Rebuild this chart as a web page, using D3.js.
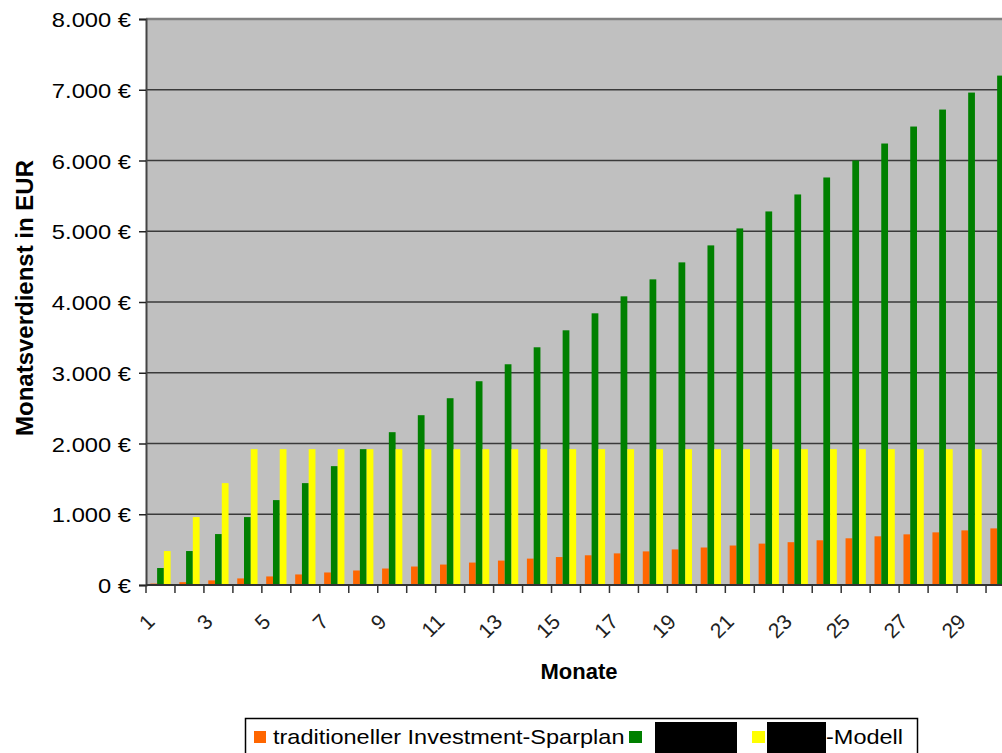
<!DOCTYPE html>
<html>
<head>
<meta charset="utf-8">
<script src="https://cdn.jsdelivr.net/npm/d3@7"></script>
<style>
  html, body { margin: 0; padding: 0; background: #fff; }
  svg { display: block; font-family: "Liberation Sans", Arial, sans-serif; }
</style>
</head>
<body>
<svg id="chart" width="1002" height="753"></svg>
<script>
// Months 1..30
const months = d3.range(1, 31);

// Monthly earnings per model (EUR)
const traditional = [20, 40, 65, 93, 121, 149, 177, 205, 233, 261,
                     289, 317, 345, 373, 395, 420, 447, 475, 503, 530,
                     558, 585, 605, 632, 660, 688, 716, 744, 772, 800];
const greenModel = [240, 480, 720, 960, 1200, 1440, 1680, 1920, 2160, 2400,
                    2640, 2880, 3120, 3360, 3600, 3840, 4080, 4320, 4560, 4800,
                    5040, 5280, 5520, 5760, 6000, 6240, 6480, 6720, 6960, 7200];
const yellowModel = [480, 960, 1440, 1920, 1920, 1920, 1920, 1920, 1920, 1920,
                     1920, 1920, 1920, 1920, 1920, 1920, 1920, 1920, 1920, 1920,
                     1920, 1920, 1920, 1920, 1920, 1920, 1920, 1920, 1920, 1920];

const seriesKeys = ["traditionell", "gruen", "gelb"];
const seriesColors = ["#ff6600", "#008000", "#ffff00"];
const seriesValues = [traditional, greenModel, yellowModel];

const yTicks = [0, 1000, 2000, 3000, 4000, 5000, 6000, 7000, 8000];
const xTickLabels = months.filter(m => m % 2 === 1);

const yTitle = "Monatsverdienst in EUR";
const xTitle = "Monate";
const legendText1 = "traditioneller Investment-Sparplan";
const legendText3 = "-Modell";

const svg = d3.select("#chart");

const plot = { left: 146, right: 1015, top: 19, bottom: 585 };

const x = d3.scaleBand()
  .domain(months)
  .range([plot.left, plot.right])
  .paddingInner(0.3)
  .paddingOuter(0.15);

const xs = d3.scaleBand()
  .domain(seriesKeys)
  .range([0, x.bandwidth()]);

const y = d3.scaleLinear()
  .domain([0, 8000])
  .range([plot.bottom, plot.top]);

const de = d3.formatLocale({ decimal: ",", thousands: ".", grouping: [3], currency: ["", " €"] });
const fmt = v => de.format(",")(v) + " €";

// plot area background
svg.append("rect")
  .attr("x", plot.left).attr("y", plot.top)
  .attr("width", plot.right - plot.left).attr("height", plot.bottom - plot.top)
  .attr("fill", "#c0c0c0");

// horizontal gridlines
svg.append("g")
  .selectAll("line")
  .data(yTicks.filter(t => t > 0))
  .join("line")
  .attr("x1", plot.left).attr("x2", plot.right)
  .attr("y1", d => y(d)).attr("y2", d => y(d))
  .attr("stroke", d => d === 8000 ? "#808080" : "#3a3a3a")
  .attr("stroke-width", d => d === 8000 ? 2.5 : 1.6);

// bars
const groups = svg.append("g")
  .selectAll("g")
  .data(months)
  .join("g")
  .attr("transform", d => `translate(${x(d)},0)`);

groups.selectAll("rect")
  .data((m, i) => seriesKeys.map((k, s) => ({ key: k, value: seriesValues[s][i], color: seriesColors[s] })))
  .join("rect")
  .attr("x", d => xs(d.key))
  .attr("width", xs.bandwidth())
  .attr("y", d => y(d.value))
  .attr("height", d => y(0) - y(d.value))
  .attr("fill", d => d.color);

// y axis
const yAxis = svg.append("g")
  .attr("transform", `translate(${plot.left},0)`)
  .call(d3.axisLeft(y).tickValues(yTicks).tickFormat(fmt).tickSize(7).tickPadding(0));
yAxis.select(".domain").attr("stroke", "#444").attr("stroke-width", 2);
yAxis.selectAll(".tick line").attr("stroke", "#222").attr("stroke-width", 1.5);
yAxis.selectAll(".tick text")
  .attr("x", 0).attr("dy", "0.36em")
  .attr("font-size", 21).attr("fill", "#000")
  .attr("text-anchor", "end")
  .attr("transform", "translate(-15,0) scale(1.13,1)");

// x axis: ticks at category boundaries
const xAxisG = svg.append("g").attr("transform", `translate(0,${plot.bottom})`);
xAxisG.append("line")
  .attr("x1", plot.left).attr("x2", plot.right)
  .attr("stroke", "#333").attr("stroke-width", 2);
xAxisG.selectAll("line.tk")
  .data(months)
  .join("line")
  .attr("class", "tk")
  .attr("x1", d => x(d) - x.step() * 0.15)
  .attr("x2", d => x(d) - x.step() * 0.15)
  .attr("y1", 0).attr("y2", 8)
  .attr("stroke", "#333").attr("stroke-width", 1.5);

xAxisG.selectAll("text")
  .data(xTickLabels)
  .join("text")
  .attr("transform", d => `translate(${x(d) + x.bandwidth() / 2 - 4.5},38) rotate(-45)`)
  .attr("text-anchor", "end")
  .attr("font-size", 21)
  .attr("fill", "#222")
  .text(d => d);

// axis titles
svg.append("text")
  .attr("transform", `translate(33,298) rotate(-90)`)
  .attr("text-anchor", "middle")
  .attr("font-size", 24).attr("font-weight", "bold")
  .text(yTitle);

svg.append("text")
  .attr("x", 579).attr("y", 679)
  .attr("text-anchor", "middle")
  .attr("font-size", 22).attr("font-weight", "bold")
  .text(xTitle);

// legend
const lg = svg.append("g");
lg.append("rect")
  .attr("x", 245.5).attr("y", 718.5)
  .attr("width", 672).attr("height", 40)
  .attr("fill", "#fff").attr("stroke", "#000").attr("stroke-width", 1.5);

lg.append("rect").attr("x", 254).attr("y", 731).attr("width", 12).attr("height", 12).attr("fill", seriesColors[0]);
lg.append("text")
  .attr("transform", "translate(273,744) scale(1.12,1)")
  .attr("font-size", 21).attr("fill", "#000")
  .text(legendText1);

lg.append("rect").attr("x", 629).attr("y", 731).attr("width", 13).attr("height", 12).attr("fill", seriesColors[1]);
lg.append("rect").attr("x", 655).attr("y", 722).attr("width", 82).attr("height", 31).attr("fill", "#000");

lg.append("rect").attr("x", 752).attr("y", 731).attr("width", 13).attr("height", 12).attr("fill", seriesColors[2]);
lg.append("rect").attr("x", 767).attr("y", 722).attr("width", 59).attr("height", 31).attr("fill", "#000");
lg.append("text")
  .attr("transform", "translate(826,744) scale(1.12,1)")
  .attr("font-size", 21).attr("fill", "#000")
  .text(legendText3);
</script>
</body>
</html>
